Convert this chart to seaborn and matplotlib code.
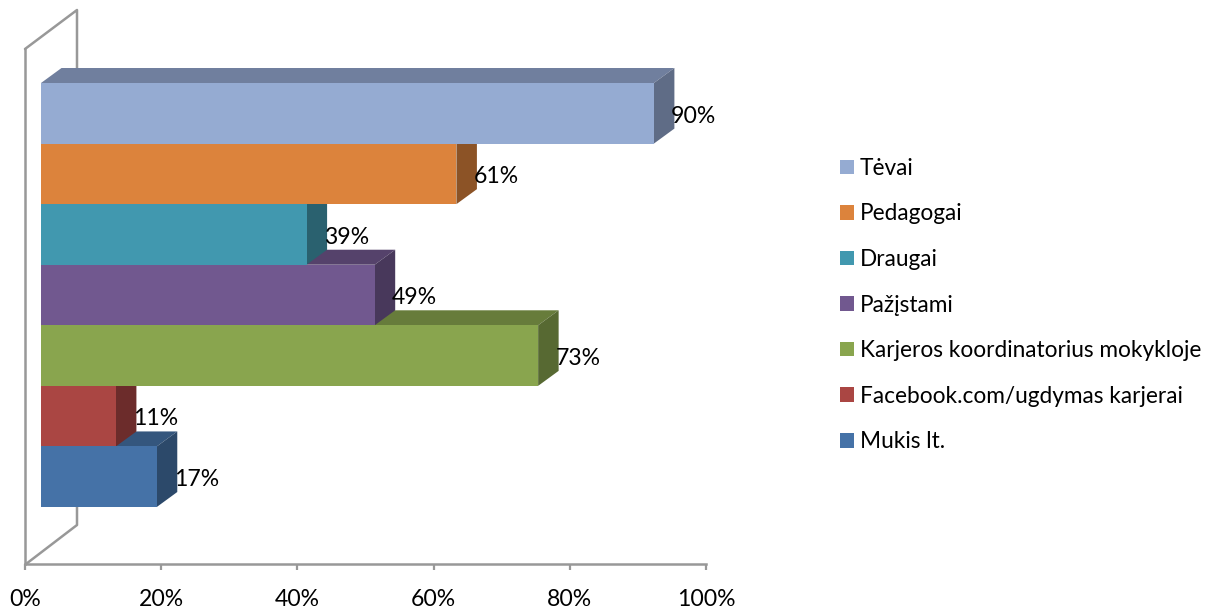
import matplotlib
matplotlib.use("Agg")
import matplotlib.pyplot as plt
from matplotlib.lines import Line2D
import seaborn as sns

sns.set_theme(style="white")
plt.rcParams["font.family"] = ["Lato", "DejaVu Sans"]

categories = ["Tėvai", "Pedagogai", "Draugai", "Pažįstami",
              "Karjeros koordinatorius mokykloje",
              "Facebook.com/ugdymas karjerai", "Mukis lt."]
values = [90, 61, 39, 49, 73, 11, 17]
front_colors = ["#95ABD2", "#DC833C", "#4198AF", "#71588F", "#89A54E", "#AA4643", "#4572A7"]
top_colors = ["#707F9E", "#A5622D", "#317283", "#55426B", "#677C3B", "#803432", "#34567D"]
side_colors = ["#5F6C86", "#8C5326", "#2A616F", "#48385B", "#576932", "#6C2C2B", "#2C496A"]
tick_values = [0, 20, 40, 60, 80, 100]
tick_labels = ["0%", "20%", "40%", "60%", "80%", "100%"]

W, H = 1216, 612
GRAY = "#989898"


def box(left, top, right, bottom):
    return [left / W, 1 - bottom / H, (right - left) / W, (bottom - top) / H]


fig = plt.figure(figsize=(W / 100, H / 100), dpi=100)

# Axis frame with the tick scale
frame = fig.add_axes(box(25, 49, 706, 564), facecolor="none", zorder=1)
frame.set_xlim(0, 100)
frame.set_ylim(0, 1)
frame.set_xticks(tick_values, tick_labels)
frame.set_yticks([])
frame.tick_params(axis="x", length=4.5, width=1.6, color=GRAY, pad=13.5,
                  labelsize=16.6, labelcolor="black", bottom=True)
for name, spine in frame.spines.items():
    spine.set_visible(name in ("bottom", "left"))
    spine.set_color(GRAY)
    spine.set_linewidth(1.8)

# Back wall of the 3-D box
wall_x = [25, 77, 77]
wall_y = [49, 10, 83]
floor_x = [26, 77, 77]
floor_y = [564, 525, 507]
for xs, ys in ((wall_x, wall_y), (floor_x, floor_y)):
    fig.add_artist(Line2D([x / W for x in xs], [1 - y / H for y in ys],
                          color=GRAY, lw=1.8, zorder=1.5))

# Bars
ax = fig.add_axes(box(41, 83, 722, 507), facecolor="none", zorder=2)
sns.barplot(x=values, y=categories, hue=categories, palette=front_colors,
            dodge=False, width=1, saturation=1, legend=True, ax=ax, zorder=5,
            linewidth=0)
ax.set_xlim(0, 100)
ax.set_ylim(6.5, -0.5)
ax.set_xticks([])
ax.set_yticks([])
ax.set_xlabel("")
ax.set_ylabel("")
sns.despine(ax=ax, left=True, bottom=True, top=True, right=True)

dx = 20.5 / 6.81
dy = 15 / 60.6
for i in range(len(values) - 1, -1, -1):
    v = values[i]
    ax.fill([0, v, v + dx, dx], [i - .5, i - .5, i - .5 - dy, i - .5 - dy],
            color=top_colors[i], lw=0, clip_on=False, zorder=2)
    ax.fill([v, v + dx, v + dx, v], [i - .5, i - .5 - dy, i + .5 - dy, i + .5],
            color=side_colors[i], lw=0, clip_on=False, zorder=2)

for i, v in enumerate(values):
    ax.annotate(f"{v}%", xy=(v, i), xytext=(28.6, -2), textcoords="offset points",
                ha="center", va="center", fontsize=16.6, color="black", zorder=6,
                annotation_clip=False)

# Legend
handles, labels = ax.get_legend_handles_labels()
ax.get_legend().remove()
fs = 16.3
fs_px = fs * 100 / 72
fig.legend(handles, labels, loc="center left",
           bbox_to_anchor=(840 / W, 1 - 305 / H), frameon=False, fontsize=fs,
           labelcolor="black", handlelength=14 / fs_px, handleheight=14 / fs_px,
           handletextpad=6 / fs_px, labelspacing=(47.2 - fs_px) / fs_px,
           borderpad=0, borderaxespad=0)

fig.savefig("out.png", dpi=100)
